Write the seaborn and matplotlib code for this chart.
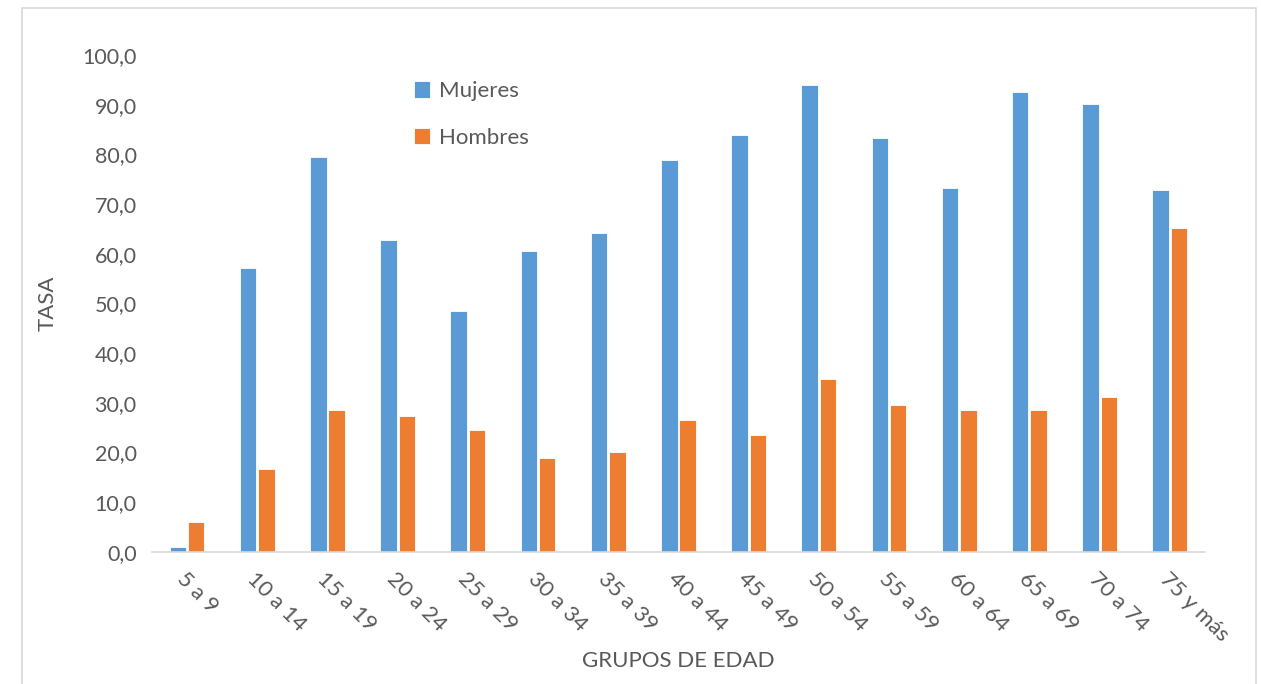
import matplotlib
matplotlib.use("Agg")
import matplotlib.pyplot as plt
import matplotlib.ticker as ticker
import matplotlib.patches as mpatches
import pandas as pd
import seaborn as sns

# ─────────────────────────────────────────────
# DATOS
# ─────────────────────────────────────────────
grupos = ["5 a 9", "10 a 14", "15 a 19", "20 a 24", "25 a 29", "30 a 34",
          "35 a 39", "40 a 44", "45 a 49", "50 a 54", "55 a 59", "60 a 64",
          "65 a 69", "70 a 74", "75 y más"]
mujeres = [1.0, 57.1, 79.5, 62.8, 48.5, 60.6, 64.1, 78.8, 83.9, 93.9,
           83.2, 73.3, 92.6, 90.1, 72.9]
hombres = [6.1, 16.6, 28.5, 27.3, 24.5, 18.9, 20.1, 26.6, 23.5, 34.9,
           29.6, 28.6, 28.6, 31.1, 65.2]
series = ["Mujeres", "Hombres"]

AZUL = "#5B9BD5"
NARANJA = "#ED7D31"
GRIS_TEXTO = "#595959"

df = pd.DataFrame({
    "grupo": grupos * 2,
    "tasa": mujeres + hombres,
    "sexo": [series[0]] * len(grupos) + [series[1]] * len(grupos),
})

sns.set_style("white")
plt.rcParams["font.family"] = ["Lato", "DejaVu Sans"]

fig = plt.figure(figsize=(12.61, 6.84), dpi=100)
ax = fig.add_axes([0.1205, 0.193, 0.835, 0.7266])

sns.barplot(data=df, x="grupo", y="tasa", hue="sexo", order=grupos,
            hue_order=series, palette=[AZUL, NARANJA], saturation=1,
            width=0.52, gap=0.1, edgecolor="white", linewidth=0.6, ax=ax)

ax.set_ylim(0, 100)
ax.set_xlim(-0.5, len(grupos) - 0.5)
ax.yaxis.set_major_locator(ticker.MultipleLocator(10))
ax.yaxis.set_major_formatter(
    ticker.FuncFormatter(lambda v, _: f"{v:.1f}".replace(".", ",")))
ax.tick_params(axis="y", length=0, labelsize=15.5, labelcolor=GRIS_TEXTO, pad=11)
ax.tick_params(axis="x", length=0, labelsize=16, labelcolor=GRIS_TEXTO, pad=12)
for lbl in ax.get_xticklabels():
    lbl.set_rotation(-45)
    lbl.set_ha("left")
    lbl.set_va("top")
    lbl.set_rotation_mode("anchor")

sns.despine(ax=ax, left=True)
ax.spines["bottom"].set_color("#D9D9D9")
ax.spines["bottom"].set_linewidth(1.2)

ax.set_xlabel("GRUPOS DE EDAD", fontsize=16, color=GRIS_TEXTO)
ax.xaxis.set_label_coords(0.5, -0.2)
ax.set_ylabel("TASA", fontsize=16, color=GRIS_TEXTO, labelpad=18)

leg = ax.legend(loc="upper left", bbox_to_anchor=(0.24, 0.965), frameon=False,
                fontsize=16, labelspacing=1.2, handlelength=0.75,
                handleheight=0.75, handletextpad=0.4, borderaxespad=0,
                title=None)
for txt in leg.get_texts():
    txt.set_color(GRIS_TEXTO)

# marco exterior del gráfico
fig.patches.append(mpatches.Rectangle(
    (22 / 1261, -0.01), 1234 / 1261, 1 - 8 / 684 + 0.01,
    transform=fig.transFigure, fill=False, edgecolor="#D9D9D9", linewidth=1.2))

fig.savefig("out.png", dpi=100)
plt.close(fig)
